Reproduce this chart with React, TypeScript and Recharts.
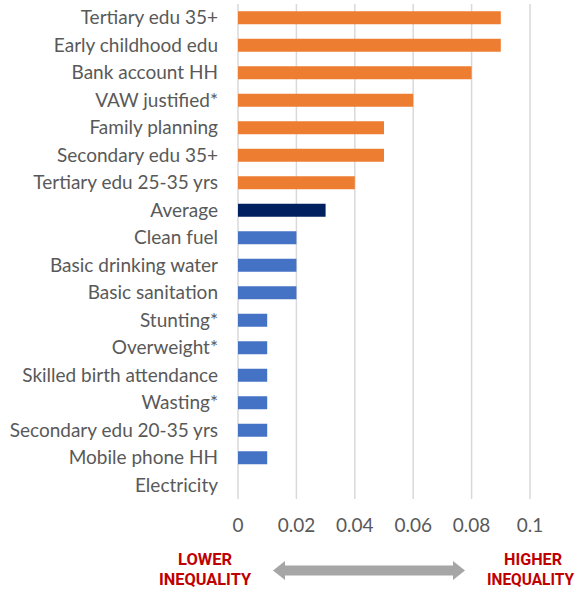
import React from 'react';
import { BarChart, Bar, XAxis, YAxis, CartesianGrid, Cell } from 'recharts';

const categories = [
  'Tertiary edu 35+',
  'Early childhood edu',
  'Bank account HH',
  'VAW justified*',
  'Family planning',
  'Secondary edu 35+',
  'Tertiary edu 25-35 yrs',
  'Average',
  'Clean fuel',
  'Basic drinking water',
  'Basic sanitation',
  'Stunting*',
  'Overweight*',
  'Skilled birth attendance',
  'Wasting*',
  'Secondary edu 20-35 yrs',
  'Mobile phone HH',
  'Electricity',
];

const values = [0.09, 0.09, 0.08, 0.06, 0.05, 0.05, 0.04, 0.03, 0.02, 0.02, 0.02, 0.01, 0.01, 0.01, 0.01, 0.01, 0.01, 0];

const groups = ['high', 'high', 'high', 'high', 'high', 'high', 'high', 'avg', 'low', 'low', 'low', 'low', 'low', 'low', 'low', 'low', 'low', 'low'];

const xTicks = [0, 0.02, 0.04, 0.06, 0.08, 0.1];

const groupColors: Record<string, string> = { high: '#ED7D31', avg: '#002060', low: '#4472C4' };

const data = categories.map((name, i) => ({ name, value: values[i], group: groups[i] }));

const FONT = 'Lato, "Noto Sans", sans-serif';

export default function App() {
  return (
    <div style={{ position: 'absolute', left: 0, top: 0, width: 579, height: 590, background: '#fff' }}>
      <BarChart
        width={579}
        height={590}
        data={data}
        layout="vertical"
        margin={{ top: 4, right: 49, left: 0, bottom: 54 }}
        barCategoryGap="26%"
      >
        <CartesianGrid horizontal={false} stroke="#D9D9D9" strokeWidth={1.5} />
        <XAxis
          type="number"
          domain={[0, 0.1]}
          ticks={xTicks}
          tickFormatter={(v: number) => String(Number(v.toFixed(2)))}
          axisLine={false}
          tickLine={false}
          tickSize={0}
          tickMargin={20}
          height={37}
          tick={{ fill: '#595959', fontSize: 19, fontFamily: FONT }}
          interval={0}
        />
        <YAxis
          type="category"
          dataKey="name"
          width={238}
          axisLine={false}
          tickLine={false}
          tickSize={0}
          tickMargin={20}
          interval={0}
          tick={{ fill: '#595959', fontSize: 19, fontFamily: FONT }}
        />
        <Bar dataKey="value" isAnimationActive={false}>
          {data.map((d, i) => (
            <Cell key={i} fill={groupColors[d.group]} />
          ))}
        </Bar>
      </BarChart>
      <svg width={579} height={590} style={{ position: 'absolute', left: 0, top: 0, pointerEvents: 'none' }}>
        <g fontFamily='Roboto, sans-serif' fontWeight="bold" fontSize={16.5} fill="#C00000">
          <text x={205} y={564.5} textAnchor="middle" textLength={54} lengthAdjust="spacingAndGlyphs">LOWER</text>
          <text x={205} y={585} textAnchor="middle" textLength={92} lengthAdjust="spacingAndGlyphs">INEQUALITY</text>
          <text x={562} y={564.5} textAnchor="end" textLength={58} lengthAdjust="spacingAndGlyphs">HIGHER</text>
          <text x={574} y={585} textAnchor="end" textLength={87} lengthAdjust="spacingAndGlyphs">INEQUALITY</text>
        </g>
        <polygon
          points="273,570.5 285,561 285,565.5 453,565.5 453,561 465,570.5 453,580 453,575.5 285,575.5 285,580"
          fill="#A6A6A6"
        />
      </svg>
    </div>
  );
}
